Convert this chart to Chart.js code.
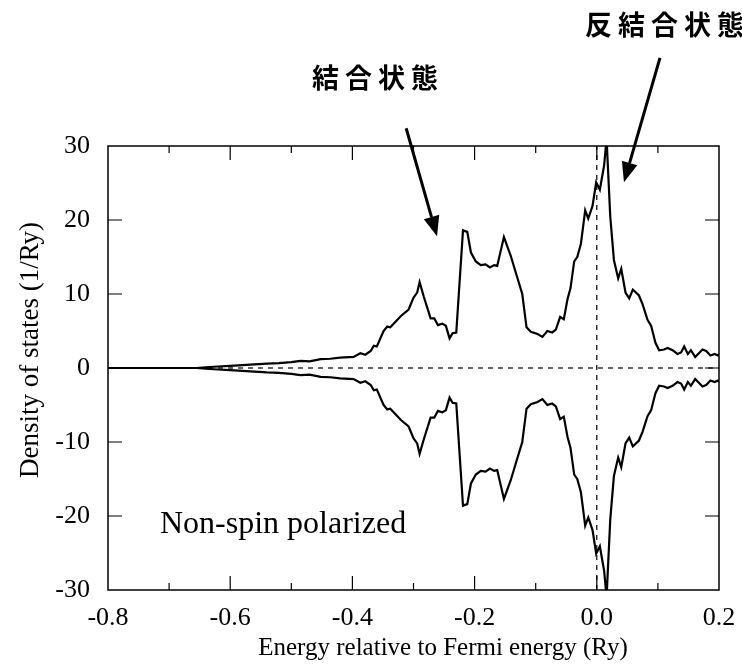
<!DOCTYPE html>
<html>
<head>
<meta charset="utf-8">
<script src="https://cdn.jsdelivr.net/npm/chart.js@4.4.0/dist/chart.umd.min.js"></script>
<style>
  html, body { margin: 0; padding: 0; background: #fff; }
  #wrap { width: 742px; height: 664px; }
</style>
</head>
<body>
<div id="wrap"><canvas id="dosChart" width="742" height="664"></canvas></div>
<script>
// energy (Ry, relative to E_F) and density of states (1/Ry)
const energy = [
  -0.800, -0.700, -0.655, -0.640, -0.620, -0.600, -0.580, -0.560, -0.540, -0.520,
  -0.500, -0.485, -0.470, -0.452, -0.436, -0.420, -0.398, -0.387, -0.379, -0.370,
  -0.365, -0.360, -0.349, -0.343, -0.338, -0.321, -0.308, -0.300, -0.294, -0.290,
  -0.283, -0.272, -0.266, -0.260, -0.253, -0.247, -0.241, -0.236, -0.230, -0.219,
  -0.212, -0.206, -0.198, -0.190, -0.182, -0.175, -0.168, -0.163, -0.152, -0.141,
  -0.133, -0.122, -0.115, -0.108, -0.097, -0.089, -0.081, -0.073, -0.067, -0.060,
  -0.054, -0.048, -0.043, -0.037, -0.032, -0.026, -0.019, -0.014, -0.007, -0.001,
  0.005, 0.012, 0.016, 0.022, 0.028, 0.035, 0.040, 0.047, 0.053, 0.059,
  0.069, 0.075, 0.083, 0.089, 0.096, 0.102, 0.110, 0.116, 0.124, 0.132,
  0.138, 0.143, 0.149, 0.154, 0.161, 0.173, 0.179, 0.186, 0.193, 0.198, 0.200
];
const dosUp = [
  0, 0, 0, 0.1, 0.2, 0.3, 0.4, 0.5, 0.6, 0.65,
  0.8, 0.95, 0.9, 1.2, 1.25, 1.4, 1.5, 2.0, 1.8, 2.3,
  3.0, 2.9, 5.0, 5.6, 5.5, 7.0, 7.9, 9.5, 10.2, 11.6,
  9.6, 6.7, 6.7, 5.8, 6.0, 5.7, 4.0, 4.7, 4.8, 18.6,
  18.4, 15.6, 14.4, 13.9, 14.0, 13.6, 13.9, 13.8, 17.7, 15.2,
  13.0, 10.0, 5.5, 4.9, 4.6, 4.2, 5.0, 4.8, 5.2, 6.9,
  6.6, 9.3, 10.8, 14.4, 15.0, 16.8, 21.3, 20.2, 21.9, 25.1,
  24.1, 27.4, 31.0, 20.5, 14.6, 12.1, 13.4, 10.2, 9.4, 10.6,
  9.8, 8.6, 6.5, 5.7, 3.4, 2.4, 2.5, 2.7, 2.4, 1.9,
  2.1, 2.9, 1.9, 2.4, 1.5, 2.5, 2.3, 1.7, 1.9, 1.7, 1.9
];
const dosDown = [
  0, 0, 0, -0.1, -0.2, -0.3, -0.4, -0.5, -0.6, -0.65,
  -0.8, -0.95, -0.9, -1.2, -1.25, -1.4, -1.5, -2.0, -1.8, -2.3,
  -3.0, -2.9, -5.0, -5.6, -5.5, -7.0, -7.9, -9.5, -10.2, -11.6,
  -9.6, -6.7, -6.7, -5.8, -6.0, -5.7, -4.0, -4.7, -4.8, -18.6,
  -18.4, -15.6, -14.4, -13.9, -14.0, -13.6, -13.9, -13.8, -17.7, -15.2,
  -13.0, -10.0, -5.5, -4.9, -4.6, -4.2, -5.0, -4.8, -5.2, -6.9,
  -6.6, -9.3, -10.8, -14.4, -15.0, -16.8, -21.3, -20.2, -21.9, -25.1,
  -24.1, -27.4, -31.0, -20.5, -14.6, -12.1, -13.4, -10.2, -9.4, -10.6,
  -9.8, -8.6, -6.5, -5.7, -3.4, -2.4, -2.5, -2.7, -2.4, -1.9,
  -2.1, -2.9, -1.9, -2.4, -1.5, -2.5, -2.3, -1.7, -1.9, -1.7, -1.9
];

const xLabelTicks = [-0.8, -0.6, -0.4, -0.2, 0.0, 0.2];
const xMajorTicks = [-0.6, -0.4, -0.2, 0.0];
const xMinorTicks = [-0.7, -0.5, -0.3, -0.1, 0.1];
const yTicks = [20, 10, 0, -10, -20];

// arrows given in data units: [x0, y0, x1 (tip), y1 (tip)]
const bondArrow = [-0.312, 32.4, -0.2615, 17.8];
const antiArrow = [0.1034, 41.9, 0.0445, 25.1];

const serif = '"Liberation Serif", "Times New Roman", serif';
const jp = '"Noto Sans CJK JP", "Noto Sans", sans-serif';

function pts(xs, ys) {
  return xs.map((x, i) => ({ x: x, y: ys[i] }));
}

function arrow(ctx, x0, y0, x1, y1) {
  const ang = Math.atan2(y1 - y0, x1 - x0);
  const len = 20, half = 8;
  const bx = x1 - len * Math.cos(ang);
  const by = y1 - len * Math.sin(ang);
  ctx.beginPath();
  ctx.moveTo(x0, y0);
  ctx.lineTo(bx, by);
  ctx.stroke();
  ctx.beginPath();
  ctx.moveTo(x1, y1);
  ctx.lineTo(bx + half * Math.sin(ang), by - half * Math.cos(ang));
  ctx.lineTo(bx - half * Math.sin(ang), by + half * Math.cos(ang));
  ctx.closePath();
  ctx.fill();
}

const decor = {
  id: 'decor',
  afterDraw(chart) {
    const ctx = chart.ctx;
    const a = chart.chartArea;
    const xs = chart.scales.x, ys = chart.scales.y;
    ctx.save();
    ctx.strokeStyle = '#000';
    ctx.fillStyle = '#000';

    // frame
    ctx.lineWidth = 1.5;
    ctx.strokeRect(a.left, a.top, a.right - a.left, a.bottom - a.top);

    // inward ticks
    ctx.lineWidth = 1.2;
    ctx.beginPath();
    xMajorTicks.forEach(v => {
      const px = xs.getPixelForValue(v);
      ctx.moveTo(px, a.bottom); ctx.lineTo(px, a.bottom - 14);
      ctx.moveTo(px, a.top); ctx.lineTo(px, a.top + 14);
    });
    xMinorTicks.forEach(v => {
      const px = xs.getPixelForValue(v);
      ctx.moveTo(px, a.bottom); ctx.lineTo(px, a.bottom - 7);
      ctx.moveTo(px, a.top); ctx.lineTo(px, a.top + 7);
    });
    yTicks.forEach(v => {
      const py = ys.getPixelForValue(v);
      ctx.moveTo(a.left, py); ctx.lineTo(a.left + 14, py);
      ctx.moveTo(a.right, py); ctx.lineTo(a.right - 14, py);
    });
    ctx.stroke();

    // axis titles
    ctx.font = '25px ' + serif;
    ctx.textAlign = 'center';
    ctx.textBaseline = 'alphabetic';
    ctx.fillText('Energy relative to Fermi energy (Ry)', 443, 655);
    ctx.save();
    ctx.translate(38, 350);
    ctx.rotate(-Math.PI / 2);
    ctx.font = '27px ' + serif;
    ctx.fillText('Density of states (1/Ry)', 0, 0);
    ctx.restore();

    // inner label
    ctx.textAlign = 'left';
    ctx.font = '32px ' + serif;
    ctx.fillText('Non-spin polarized', 160, 533);

    // japanese annotations
    ctx.font = 'bold 27px ' + jp;
    ctx.letterSpacing = '6px';
    ctx.textBaseline = 'middle';
    ctx.fillText('結合状態', 312, 78);
    ctx.fillText('反結合状態', 585, 25);
    ctx.letterSpacing = '0px';

    // arrows
    ctx.lineWidth = 3;
    [bondArrow, antiArrow].forEach(r => {
      arrow(ctx, xs.getPixelForValue(r[0]), ys.getPixelForValue(r[1]),
        xs.getPixelForValue(r[2]), ys.getPixelForValue(r[3]));
    });
    ctx.restore();
  }
};

const ctx = document.getElementById('dosChart').getContext('2d');
new Chart(ctx, {
  type: 'scatter',
  data: {
    datasets: [
      {
        label: 'zero',
        data: pts([-0.8, 0.2], [0, 0]),
        showLine: true,
        borderColor: '#000',
        borderWidth: 1.2,
        borderDash: [5, 5],
        pointRadius: 0
      },
      {
        label: 'Fermi',
        data: pts([0, 0], [-30, 30]),
        showLine: true,
        borderColor: '#000',
        borderWidth: 1.2,
        borderDash: [5, 5],
        pointRadius: 0
      },
      {
        label: 'up',
        data: pts(energy, dosUp),
        showLine: true,
        borderColor: '#000',
        borderWidth: 2.2,
        pointRadius: 0,
        tension: 0
      },
      {
        label: 'down',
        data: pts(energy, dosDown),
        showLine: true,
        borderColor: '#000',
        borderWidth: 2.2,
        pointRadius: 0,
        tension: 0
      }
    ]
  },
  options: {
    responsive: false,
    animation: false,
    layout: { padding: { left: 0, right: 23, top: 146, bottom: 0 } },
    plugins: {
      legend: { display: false },
      tooltip: { enabled: false }
    },
    scales: {
      x: {
        type: 'linear',
        min: -0.8,
        max: 0.2,
        afterBuildTicks: (s) => { s.ticks = xLabelTicks.map(v => ({ value: v })); },
        afterFit: (s) => {
          s.height = 74;
          s.paddingLeft = 0;
          s.paddingRight = 0;
        },
        grid: { display: false, drawTicks: false },
        border: { display: false },
        ticks: {
          color: '#000',
          padding: 13,
          maxRotation: 0,
          font: { family: serif, size: 26 },
          callback: (v) => Number(v).toFixed(1)
        }
      },
      y: {
        min: -30,
        max: 30,
        afterFit: (s) => {
          s.width = 108;
          s.paddingTop = 0;
          s.paddingBottom = 0;
        },
        grid: { display: false, drawTicks: false },
        border: { display: false },
        ticks: {
          color: '#000',
          stepSize: 10,
          padding: 18,
          font: { family: serif, size: 26 }
        }
      }
    }
  },
  plugins: [decor]
});
</script>
</body>
</html>
